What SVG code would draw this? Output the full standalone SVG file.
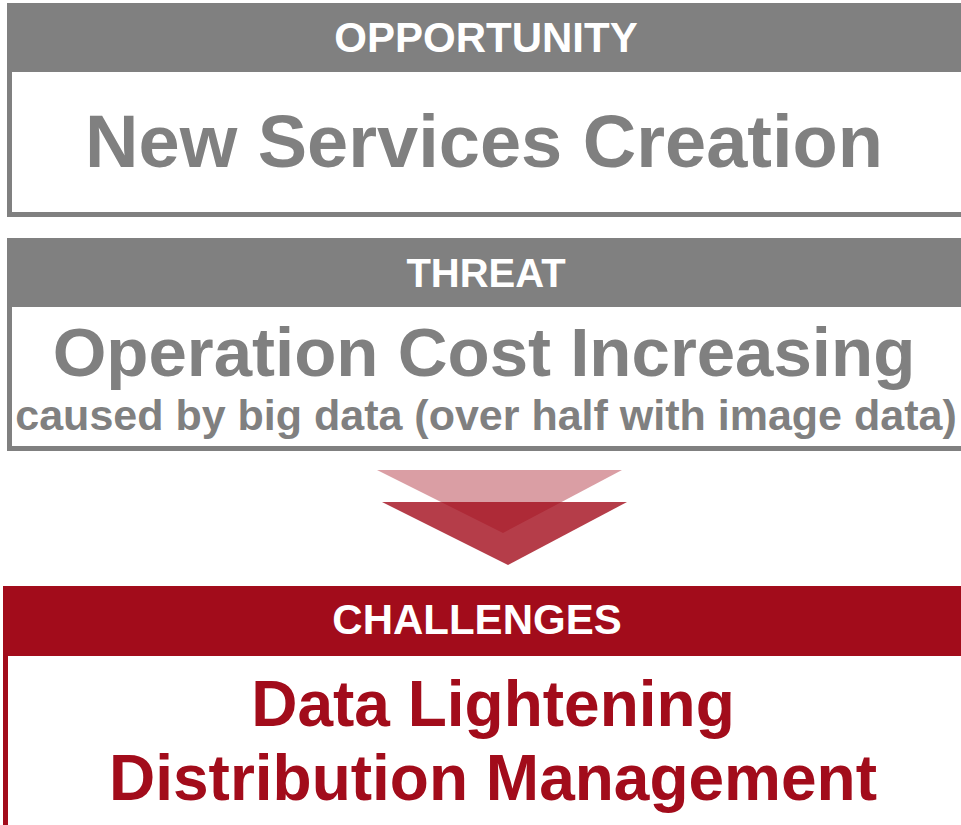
<svg xmlns="http://www.w3.org/2000/svg" width="961" height="825" viewBox="0 0 961 825">
<style>
  .t { font-family: "Liberation Sans", Arial, sans-serif; font-weight: bold; text-anchor: middle; }
  .hdr { fill: #ffffff; }
  .gray { fill: #808080; }
  .red { fill: #A20C1B; }
  .gbox { fill: #ffffff; stroke: #808080; stroke-width: 5; }
  .rbox { fill: #ffffff; stroke: #A20C1B; stroke-width: 5; }
</style>
<rect width="961" height="825" fill="#ffffff"/>
<g id="opportunity">
  <rect class="gbox" x="9.5" y="5.5" width="1000" height="209"/>
  <rect class="gray" x="7" y="3" width="1010" height="69"/>
  <text class="t hdr" x="486" y="52" font-size="42">OPPORTUNITY</text>
  <text class="t gray" x="484" y="167" font-size="74">New Services Creation</text>
</g>
<g id="threat">
  <rect class="gbox" x="9.5" y="240.5" width="1000" height="208"/>
  <rect class="gray" x="7" y="238" width="1010" height="69"/>
  <text class="t hdr" x="486" y="287" font-size="40">THREAT</text>
  <text class="t gray" x="484" y="376" font-size="69">Operation Cost Increasing</text>
  <text class="t gray" x="486" y="430" font-size="43">caused by big data (over half with image data)</text>
</g>
<g id="connectors">
  <polygon points="377,470 622,470 503,533" fill="#A20C1B" fill-opacity="0.4"/>
  <polygon points="382,502 627,502 508,565" fill="#A20C1B" fill-opacity="0.8"/>
</g>
<g id="challenges">
  <rect class="rbox" x="5.5" y="588.5" width="1000" height="300"/>
  <rect class="red" x="3" y="586" width="1010" height="70"/>
  <text class="t hdr" x="477" y="634" font-size="42">CHALLENGES</text>
  <text class="t red" x="493" y="726" font-size="64">Data Lightening</text>
  <text class="t red" x="493" y="800" font-size="64">Distribution Management</text>
</g>
</svg>
